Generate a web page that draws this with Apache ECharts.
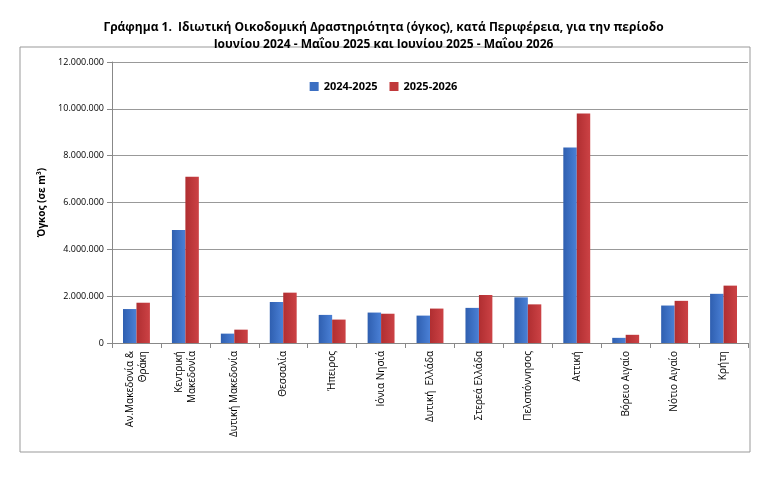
<!DOCTYPE html>
<html><head><meta charset="utf-8">
<script src="https://cdn.jsdelivr.net/npm/echarts@6/dist/echarts.min.js"></script>
<style>html,body{margin:0;padding:0;background:#fff}#c{width:767px;height:479px}</style>
</head><body><div id="c"></div>
<script>
const categories = ['Αν.Μακεδονία &\nΘράκη','Κεντρική\nΜακεδονία','Δυτική Μακεδονία','Θεσσαλία','Ήπειρος','Ιόνια Νησιά','Δυτική  Ελλάδα','Στερεά Ελλάδα','Πελοπόννησος','Αττική','Βόρειο Αιγαίο','Νότιο Αιγαίο','Κρήτη'];
const s2425 = [1450000,4830000,400000,1750000,1200000,1300000,1170000,1500000,1950000,8350000,220000,1600000,2100000];
const s2526 = [1720000,7100000,570000,2150000,1000000,1250000,1470000,2050000,1650000,9800000,350000,1800000,2450000];
const fontF = 'Open Sans, Liberation Sans, sans-serif';
function grad(c1,c2){return new echarts.graphic.LinearGradient(0,0,1,0,[{offset:0,color:c1},{offset:1,color:c2}]);}
const chart = echarts.init(document.getElementById('c'));
chart.setOption({
  animation:false,
  title:{text:'Γράφημα 1.  Ιδιωτική Οικοδομική Δραστηριότητα (όγκος), κατά Περιφέρεια, για την περίοδο\nΙουνίου 2024 - Μαΐου 2025 και Ιουνίου 2025 - Μαΐου 2026',left:'center',top:14,
    textStyle:{fontSize:12,fontWeight:'bold',fontFamily:fontF,lineHeight:17,color:'#000'}},
  graphic:[{type:'rect',shape:{x:20,y:47,width:730,height:405},style:{fill:'none',stroke:'#999',lineWidth:1}}],
  legend:{top:76,left:'center',itemWidth:9,itemHeight:9,itemGap:12,textStyle:{fontSize:11,fontWeight:'bold',fontFamily:fontF,color:'#000'},
    data:[{name:'2024-2025',icon:'rect',itemStyle:{color:'#3C6FC2'}},{name:'2025-2026',icon:'rect',itemStyle:{color:'#C0393B'}}]},
  grid:{left:112,right:19,top:62,bottom:136},
  xAxis:{type:'category',data:categories,axisLine:{lineStyle:{color:'#888'}},axisTick:{show:true,alignWithLabel:false,lineStyle:{color:'#888'}},
    axisLabel:{rotate:90,fontSize:10,fontFamily:fontF,color:'#000',interval:0,lineHeight:13}},
  yAxis:{type:'value',min:0,max:12000000,interval:2000000,name:'Όγκος (σε m³)',nameLocation:'middle',nameGap:62,nameRotate:90,
    nameTextStyle:{fontSize:10,fontWeight:'bold',fontFamily:fontF,color:'#000'},
    axisLine:{show:true,lineStyle:{color:'#888'}},axisTick:{show:true,lineStyle:{color:'#888'}},
    axisLabel:{fontSize:9,fontFamily:fontF,color:'#000',formatter:v=>v.toString().replace(/\B(?=(\d{3})+(?!\d))/g,'.')},
    splitLine:{lineStyle:{color:'#999'}}},
  series:[
    {name:'2024-2025',type:'bar',data:s2425,barGap:'0%',barCategoryGap:'45%',itemStyle:{color:grad('#2F5FB0','#4A80D6')}},
    {name:'2025-2026',type:'bar',data:s2526,itemStyle:{color:grad('#B02E31','#CC4245')}}
  ]
});
</script></body></html>
